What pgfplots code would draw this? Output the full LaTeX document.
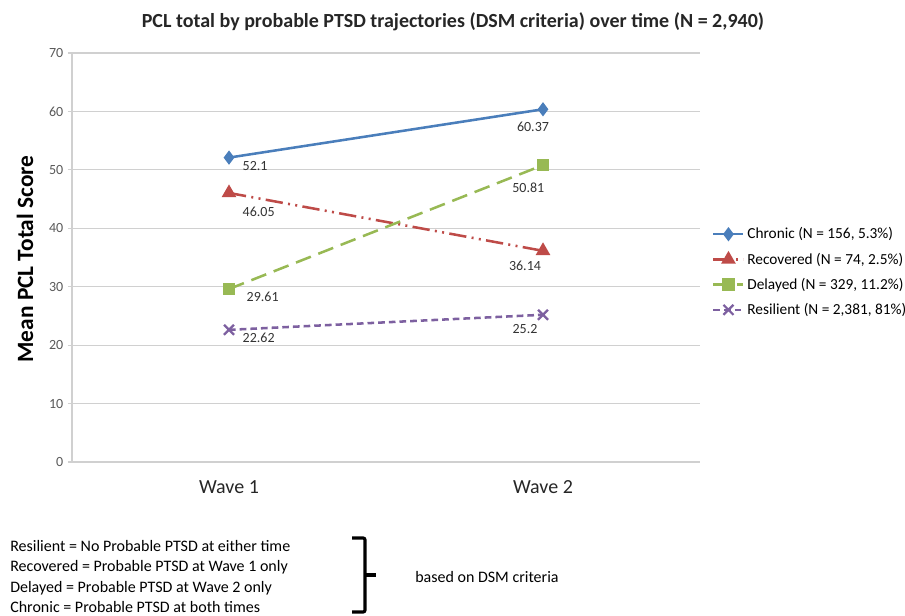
\documentclass[border=0pt]{standalone}
\usepackage{pgfplots}
\pgfplotsset{compat=1.18}
\usepackage{fontspec}
\setmainfont{Carlito}
\definecolor{cblue}{HTML}{4A7EBB}
\definecolor{cred}{HTML}{BE4B48}
\definecolor{cgreen}{HTML}{98B954}
\definecolor{cpurple}{HTML}{7D60A0}
\definecolor{gridgray}{HTML}{D0D0D0}
\definecolor{ticktext}{HTML}{595959}
\definecolor{labeltext}{HTML}{333333}

\begin{document}
\begin{tikzpicture}
\useasboundingbox (0,0) rectangle (678.75pt,461.25pt);
\begin{axis}[
  at={(54pt,114.75pt)}, anchor=south west,
  scale only axis, width=471pt, height=306.75pt,
  xmin=0.5, xmax=2.5, ymin=0, ymax=70,
  xtick={1,2}, xticklabels={Wave 1, Wave 2},
  ytick={0,10,...,70},
  axis x line*=bottom, axis y line*=left,
  axis line style={gridgray, line width=0.8pt, -},
  ymajorgrids, grid style={gridgray, line width=0.8pt},
  xtick style={draw=none},
  ytick style={gridgray, line width=0.8pt},
  tick align=outside, major tick length=3pt,
  /pgf/number format/assume math mode=true,
  yticklabel style={font=\fontsize{10.5}{11}\selectfont, text=ticktext},
  xticklabel style={font=\fontsize{15}{17}\selectfont, text=black!85, yshift=-7.5pt},
  clip=false,
  legend style={at={(1.019,0.4645)}, anchor=west, draw=none, fill=none,
    font=\fontsize{11.5}{13}\selectfont, row sep=5pt, inner sep=0pt,
    legend cell align=left},
  legend image code/.code={\draw[mark repeat=2,mark phase=2] plot coordinates {(0pt,0pt) (11.25pt,0pt) (22.5pt,0pt)};},
]
\addplot[cblue, line width=1.9pt, mark=diamond*, mark size=3.8pt, mark options={solid}]
  coordinates {(1,52.1) (2,60.37)}
  node[pos=0, anchor=west, xshift=6pt, yshift=-6pt, text=labeltext, font=\fontsize{10.5}{12}\selectfont]{52.1}
  node[pos=1, anchor=center, xshift=-7.5pt, yshift=-13.5pt, text=labeltext, font=\fontsize{10.5}{12}\selectfont]{60.37};
\addlegendentry{Chronic (N = 156, 5.3\%)}
\addplot[cred, line width=1.9pt, dash pattern=on 13pt off 4pt on 1.5pt off 4pt on 1.5pt off 4pt, mark=triangle*, mark size=4.5pt, mark options={solid}]
  coordinates {(1,46.05) (2,36.14)}
  node[pos=0, anchor=west, xshift=6pt, yshift=-14pt, text=labeltext, font=\fontsize{10.5}{12}\selectfont]{46.05}
  node[pos=1, anchor=center, xshift=-13.5pt, yshift=-11pt, text=labeltext, font=\fontsize{10.5}{12}\selectfont]{36.14};
\addlegendentry{Recovered (N = 74, 2.5\%)}
\addplot[cgreen, line width=1.9pt, dash pattern=on 12pt off 6pt, mark=square*, mark size=3.8pt, mark options={solid}]
  coordinates {(1,29.61) (2,50.81)}
  node[pos=0, anchor=west, xshift=9pt, yshift=-6pt, text=labeltext, font=\fontsize{10.5}{12}\selectfont]{29.61}
  node[pos=1, anchor=center, xshift=-11pt, yshift=-17pt, text=labeltext, font=\fontsize{10.5}{12}\selectfont]{50.81};
\addlegendentry{Delayed (N = 329, 11.2\%)}
\addplot[cpurple, line width=1.9pt, dash pattern=on 5pt off 3pt, mark=x, mark size=5.3pt, mark options={solid, line width=1.7pt}]
  coordinates {(1,22.62) (2,25.2)}
  node[pos=0, anchor=west, xshift=6pt, yshift=-6pt, text=labeltext, font=\fontsize{10.5}{12}\selectfont]{22.62}
  node[pos=1, anchor=center, xshift=-13.5pt, yshift=-11pt, text=labeltext, font=\fontsize{10.5}{12}\selectfont]{25.2};
\addlegendentry{Resilient (N = 2,381, 81\%)}
\end{axis}
\begin{scope}[x=0.75pt, y=0.75pt]
  \node[font=\bfseries\fontsize{15}{17}\selectfont, text=black!85] at (453,593)
    {PCL total by probable PTSD trajectories (DSM criteria) over time (N = 2,940)};
  \node[rotate=90, font=\bfseries\fontsize{17.5}{20}\selectfont] at (25,356) {Mean PCL Total Score};
  \begin{scope}[every node/.style={anchor=base west, inner sep=0pt, font=\fontsize{12}{14}\selectfont}]
    \node at (10,64) {Resilient = No Probable PTSD at either time};
    \node at (10,44) {Recovered = Probable PTSD at Wave 1 only};
    \node at (10,23) {Delayed = Probable PTSD at Wave 2 only};
    \node at (10,3) {Chronic = Probable PTSD at both times};
    \node at (415,33) {based on DSM criteria};
  \end{scope}
  \draw[line width=2.4pt, rounded corners=1.5pt] (352,77) -- (365,77) -- (365,3) -- (352,3);
  \draw[line width=2.4pt] (365,40) -- (376,40);
\end{scope}
\end{tikzpicture}
\end{document}
